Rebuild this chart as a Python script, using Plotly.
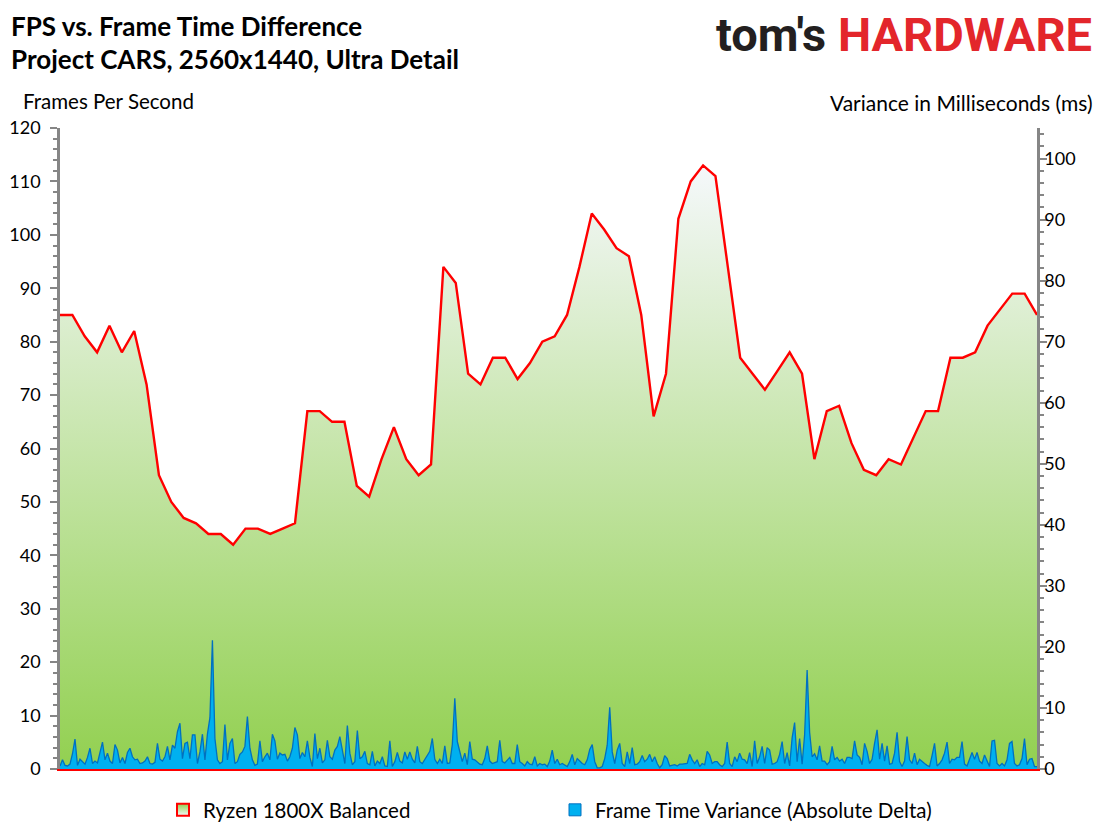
import plotly.graph_objects as go

# FPS per second (Ryzen 1800X Balanced), one value per second
seconds = list(range(80))
fps = [85, 85, 81, 78, 83, 78, 82, 72, 55, 50,
       47, 46, 44, 44, 42, 45, 45, 44, 45, 46,
       67, 67, 65, 65, 53, 51, 58, 64, 58, 55,
       57, 94, 91, 74, 72, 77, 77, 73, 76, 80,
       81, 85, 94, 104, 101, 97.5, 96, 85, 66, 74,
       103, 110, 113, 111, 94, 77, 74, 71, 74.5, 78,
       74, 58, 67, 68, 61, 56, 55, 58, 57, 62,
       67, 67, 77, 77, 78, 83, 86, 89, 89, 85]

# frame time variance (absolute delta, ms), sampled along the run
variance = [
    0.5, 1.5, 0.6, 0.5, 0.8, 2.5, 4.9, 0.6, 1.6, 1.2, 0.8, 1.9, 3.4, 0.9, 1.3, 1.0,
    2.6, 4.4, 1.5, 2.6, 1.3, 0.9, 4.0, 3.1, 1.0, 1.9, 0.9, 2.7, 3.4, 2.0, 1.5, 1.6,
    0.9, 1.0, 1.3, 2.0, 0.9, 0.8, 1.1, 4.2, 1.6, 1.3, 2.0, 3.7, 1.5, 3.9, 3.4, 6.1,
    7.5, 1.7, 4.2, 4.4, 1.7, 5.6, 5.6, 0.9, 2.8, 5.7, 1.5, 5.7, 8.4, 21.1, 5.0, 1.5,
    0.9, 1.2, 7.3, 1.5, 4.2, 5.0, 0.9, 1.2, 2.4, 2.8, 3.7, 8.6, 3.4, 1.5, 0.6, 0.8,
    4.6, 1.2, 2.0, 2.6, 1.5, 5.7, 4.6, 1.6, 2.6, 2.3, 2.4, 1.3, 2.0, 3.4, 6.8, 5.6,
    1.7, 2.7, 2.0, 4.6, 1.9, 0.4, 5.8, 1.7, 3.4, 1.0, 1.5, 4.7, 2.0, 1.6, 3.1, 3.7,
    5.3, 2.8, 0.9, 7.1, 2.6, 0.7, 1.2, 6.3, 1.7, 2.0, 2.9, 0.9, 0.7, 2.9, 0.5, 1.3,
    0.9, 2.0, 0.5, 0.4, 4.6, 0.4, 1.2, 2.7, 1.3, 1.0, 2.8, 1.6, 2.8, 1.6, 1.0, 3.7,
    1.2, 0.9, 1.5, 2.3, 2.9, 5.0, 1.6, 0.9, 1.6, 0.9, 3.8, 0.9, 1.0, 4.0, 11.6, 4.5,
    2.8, 1.2, 2.6, 0.7, 4.5, 1.6, 1.5, 1.1, 0.8, 0.7, 1.7, 3.8, 1.3, 0.9, 1.0, 1.2,
    4.7, 1.2, 1.0, 1.5, 1.9, 0.9, 0.9, 4.0, 1.2, 0.9, 0.5, 1.2, 0.8, 0.7, 2.0, 0.5,
    0.9, 0.7, 0.8, 0.4, 1.3, 3.1, 0.9, 1.6, 0.7, 0.9, 0.7, 0.4, 1.2, 2.4, 0.7, 1.7,
    1.3, 0.9, 0.7, 1.5, 3.2, 4.0, 1.2, 0.2, 0.2, 0.4, 1.7, 3.9, 10.1, 2.8, 0.9, 3.1,
    4.2, 0.9, 0.4, 2.8, 0.9, 3.5, 0.7, 0.8, 1.2, 2.2, 1.2, 1.6, 2.4, 1.2, 2.0, 0.9,
    0.2, 0.7, 2.2, 1.7, 0.5, 0.6, 0.7, 0.5, 0.8, 0.8, 0.8, 0.9, 2.4, 1.5, 0.9, 1.5,
    0.4, 0.9, 0.7, 2.9, 2.3, 0.9, 1.2, 1.2, 0.7, 0.4, 0.9, 4.4, 0.9, 0.4, 2.0, 1.2,
    2.6, 1.6, 1.5, 0.9, 2.7, 0.4, 4.6, 0.9, 2.0, 3.7, 0.9, 3.5, 3.1, 0.8, 0.9, 1.2,
    2.4, 4.5, 0.9, 2.7, 0.5, 5.1, 7.6, 1.2, 5.0, 0.8, 5.6, 16.2, 6.0, 2.0, 2.5, 1.5,
    3.8, 1.3, 1.3, 0.7, 1.2, 3.7, 1.5, 1.9, 1.3, 1.6, 0.9, 1.9, 1.9, 1.7, 4.6, 2.3,
    1.9, 0.7, 4.2, 2.9, 0.9, 1.6, 4.2, 6.4, 1.6, 4.2, 1.3, 3.8, 0.8, 0.9, 2.6, 6.0,
    1.2, 0.4, 1.3, 5.3, 1.5, 0.9, 2.6, 0.7, 1.6, 1.2, 0.9, 0.6, 0.4, 2.2, 4.2, 0.5,
    0.9, 1.5, 2.6, 4.4, 0.9, 1.6, 1.5, 1.9, 1.9, 4.5, 0.8, 0.5, 1.7, 2.7, 1.6, 2.7,
    1.3, 0.9, 2.3, 1.3, 0.4, 4.6, 4.7, 0.9, 0.5, 0.9, 0.5, 1.5, 4.2, 4.5, 0.9, 0.5,
    0.7, 1.7, 5.0, 0.7, 1.6, 1.7, 0.4, 0.4,
]
samples = list(range(len(variance)))

FPS_TICKS = list(range(0, 121, 10))
MS_TICKS = list(range(0, 101, 10))

FONT = "Lato"
AXIS_GREY = "#868686"

# figure geometry (px); the page puts the plot 8px in from the corner,
# so everything is laid out in screen pixels minus that offset
W, H = 1107, 830
PAGE_OFF = 8
PLOT_L, PLOT_R, PLOT_T, PLOT_B = 60, 1037, 128, 769   # screen px
ML = PLOT_L - PAGE_OFF
MT = PLOT_T - PAGE_OFF
MR = W - (PLOT_R - PAGE_OFF)
MB = H - (PLOT_B - PAGE_OFF)
PW, PH = W - ML - MR, H - MT - MB


def px_x(x):
    return (x - PAGE_OFF - ML) / PW


def px_y(y):
    return (H - MB - (y - PAGE_OFF)) / PH


fig = go.Figure()

# FPS area with green -> white gradient
fig.add_trace(go.Scatter(
    x=seconds, y=fps,
    mode="lines",
    line=dict(color="#ff0000", width=2.4),
    fill="tozeroy",
    fillgradient=dict(
        type="vertical",
        colorscale=[[0, "#92D050"], [1, "#F5F8FB"]],
    ),
    showlegend=False,
    hoverinfo="skip",
))

# frame time variance on the secondary axes
fig.add_trace(go.Scatter(
    x=samples, y=variance,
    xaxis="x2", yaxis="y2",
    mode="lines",
    line=dict(color="#0070C0", width=1.3),
    fill="tozeroy",
    fillcolor="#00B0F0",
    showlegend=False,
    hoverinfo="skip",
))

# legend entries (square swatches like the original)
fig.add_trace(go.Scatter(
    x=[None], y=[None], mode="markers",
    name="Ryzen 1800X Balanced",
    marker=dict(symbol="square", size=12, color="#92D050",
                gradient=dict(type="vertical", color="#F5F8FB"),
                line=dict(color="#ff0000", width=2)),
))
fig.add_trace(go.Scatter(
    x=[None], y=[None], mode="markers",
    name="Frame Time Variance (Absolute Delta)",
    marker=dict(symbol="square", size=12, color="#00B0F0",
                line=dict(color="#0070C0", width=1)),
))

fig.update_layout(
    width=W, height=H,
    paper_bgcolor="white", plot_bgcolor="white",
    margin=dict(l=ML, r=MR, t=MT, b=MB, autoexpand=False),
    font=dict(family=FONT, color="#000000", size=18),
    xaxis=dict(
        range=[0, 79], showgrid=False, zeroline=False, automargin=False,
        showticklabels=False, ticks="",
        showline=True, linecolor="#ff0000", linewidth=2,
    ),
    xaxis2=dict(range=[0, len(variance) - 1], overlaying="x", visible=False),
    yaxis=dict(
        range=[0, 120], tickvals=FPS_TICKS, showgrid=False, zeroline=False,
        automargin=False,
        showline=True, linecolor=AXIS_GREY, linewidth=2.5,
        ticks="outside", ticklen=7, tickwidth=2, tickcolor=AXIS_GREY,
        minor=dict(dtick=2, ticks="outside", ticklen=4, tickwidth=2, tickcolor=AXIS_GREY),
        tickfont=dict(size=18, family=FONT), ticklabelstandoff=6,
    ),
    yaxis2=dict(
        range=[0, 105], tickvals=MS_TICKS, overlaying="y", side="right",
        anchor="x2", showgrid=False, zeroline=False, automargin=False,
        showline=True, linecolor=AXIS_GREY, linewidth=2.5,
        ticks="outside", ticklen=7, tickwidth=2, tickcolor=AXIS_GREY,
        minor=dict(dtick=2, ticks="outside", ticklen=4, tickwidth=2, tickcolor=AXIS_GREY),
        tickfont=dict(size=18, family=FONT), ticklabelstandoff=-6,
    ),
    legend=dict(
        orientation="h", x=px_x(163), xanchor="left", y=px_y(790), yanchor="top",
        font=dict(size=20.5, family=FONT), entrywidth=347, itemwidth=30,
        bgcolor="rgba(0,0,0,0)",
    ),
    annotations=[
        dict(text="<b>FPS vs. Frame Time Difference</b>",
             x=px_x(9), y=px_y(26), xanchor="left",
             font=dict(size=26, family=FONT)),
        dict(text="<b>Project CARS, 2560x1440, Ultra Detail</b>",
             x=px_x(9), y=px_y(59), xanchor="left",
             font=dict(size=26, family=FONT)),
        dict(text="Frames Per Second", x=px_x(21), y=px_y(101), xanchor="left",
             font=dict(size=20.5, family=FONT)),
        dict(text="Variance in Milliseconds (ms)", x=px_x(1095), y=px_y(103),
             xanchor="right", font=dict(size=21, family=FONT)),
        dict(text="<b>tom's</b> <b><span style='color:#E3262B'>HARDWARE</span></b>",
             x=px_x(1094), y=px_y(35), xanchor="right",
             font=dict(size=47, family="Roboto", color="#231F20")),
    ],
)
fig.update_annotations(xref="paper", yref="paper", showarrow=False, yanchor="middle")

fig.write_html("out.html")
